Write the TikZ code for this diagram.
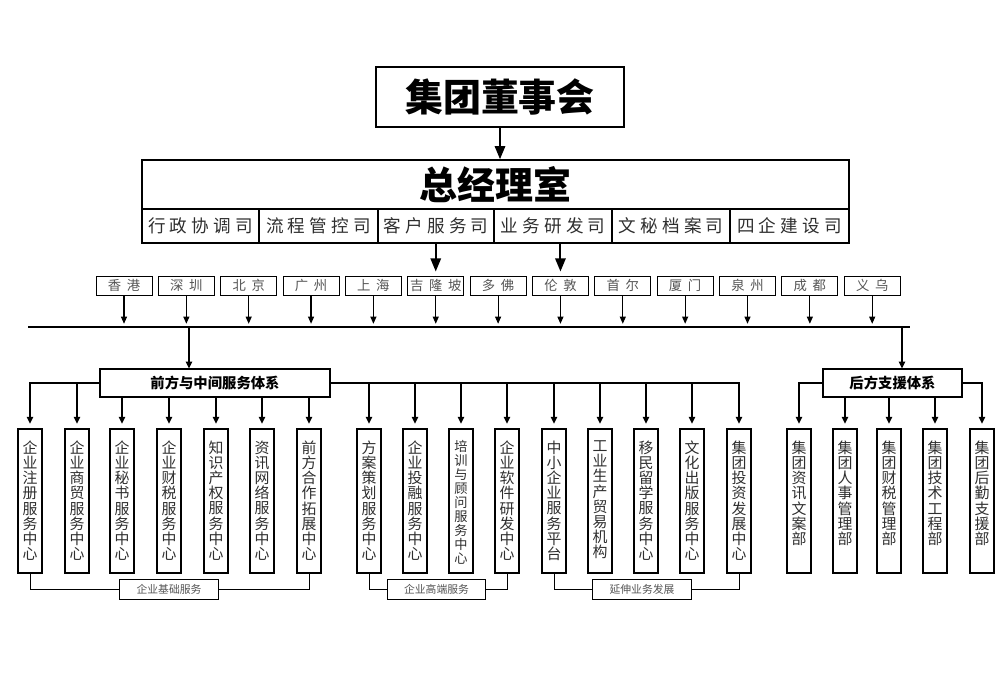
\documentclass[tikz,border=0pt]{standalone}
\usepackage{fontspec}
\newfontfamily\cjk{Noto Sans CJK SC}
\usetikzlibrary{arrows.meta, positioning}

\definecolor{tinta}{HTML}{2E2E2E}
\definecolor{gristexto}{HTML}{555555}

% Separador entre caracteres (texto espaciado o vertical)
\def\jiange#1#2{\gdef\jgsep{#1}\expandafter\jgaux#2\relax}
\def\jgaux#1#2{#1\ifx#2\relax\else\jgsep\expandafter\jgaux\fi#2}
\newcommand{\shu}[1]{\jiange{\\}{#1}}

\begin{document}
\begin{tikzpicture}[
    x=0.25mm, y=-0.25mm,
    font=\cjk,
    % Estilo para las cajas superiores
    junta/.style={draw, line width=1.4pt, minimum width=62mm, minimum height=15mm, inner sep=0pt, font=\cjk\bfseries\fontsize{27}{30}\selectfont},
    gerencia/.style={draw, line width=1.1pt, minimum width=176.75mm, minimum height=12.25mm, inner sep=0pt, font=\cjk\bfseries\fontsize{27}{30}\selectfont},
    depto/.style={draw, line width=0.9pt, minimum height=8.5mm, inner sep=0pt, text=tinta, font=\cjk\fontsize{12.5}{14}\selectfont},
    % Estilo para las ciudades
    ciudad/.style={draw, line width=0.7pt, minimum width=14mm, minimum height=4.75mm, inner sep=0pt, text=gristexto, font=\cjk\fontsize{9.5}{11}\selectfont},
    % Estilo para los sistemas y columnas
    sistema/.style={draw, line width=0.9pt, minimum height=7mm, inner sep=0pt, font=\cjk\bfseries\fontsize{10.2}{12}\selectfont},
    columna/.style={draw, line width=0.8pt, minimum width=6mm, minimum height=36mm, inner sep=0pt},
    textocol/.style={anchor=north, inner sep=0pt, yshift=-3mm, align=center, text=tinta,
        font={\cjk\ifnum\i=10 \fontsize{9.4}{9.9}\else\fontsize{10.6}{10.8}\fi\selectfont}},
    grupo/.style={draw, line width=0.7pt, minimum width=24.6mm, minimum height=5mm, inner sep=0pt, text=gristexto, font=\cjk\fontsize{7.7}{9}\selectfont},
    % Estilo para las flechas
    flechagrande/.style={line width=1.4pt, -{Triangle[length=3.3mm, width=2.6mm]}},
    flechachica/.style={line width=0.8pt, -{Triangle[length=1.8mm, width=1.5mm]}, shorten >=0.8mm},
    flechacol/.style={line width=0.8pt, -{Triangle[length=1.7mm, width=1.6mm]}, shorten >=1.2mm},
    linea/.style={line width=0.7pt}
]
    \useasboundingbox (0,0) rectangle (1006,688);

    % ==========================================
    % PARTE SUPERIOR: JUNTA Y GERENCIA
    % ==========================================
    \node[junta] (junta) at (500,97) {集团董事会};
    \node[gerencia] (gm) at (495.5,184.5) {总经理室};

    % Departamentos bajo la gerencia
    \foreach \xa/\xb/\texto [count=\i] in {142/259/行政协调司, 259/378/流程管控司, 378/494/客户服务司,
                                           494/612/业务研发司, 612/730/文秘档案司, 730/849/四企建设司}
        \node[depto, minimum width={(\xb-\xa)*0.25mm}] (d\i) at ({(\xa+\xb)/2},226) {\jiange{\hspace{3pt}}{\texto}};

    \draw[flechagrande] (junta.south) -- (junta.south |- gm.north);

    % ==========================================
    % CIUDADES Y BARRA COMUN
    % ==========================================
    \foreach \nombre [count=\i from 0] in {香港,深圳,北京,广州,上海,吉隆坡,多佛,伦敦,首尔,厦门,泉州,成都,义乌}
        \node[ciudad] (ciu\i) at ({124+62.35*\i},285.5) {\jiange{\hspace{4pt}}{\nombre}};

    \draw[flechagrande, shorten >=1mm] (d3.south -| ciu5.north) -- (ciu5.north);
    \draw[flechagrande, shorten >=1mm] (d4.south -| ciu7.north) -- (ciu7.north);

    \coordinate (barraI) at (28,327);
    \coordinate (barraD) at (910,327);
    \draw[line width=1.3pt] (barraI) -- (barraD);

    \foreach \i in {0,...,12}
        \draw[flechachica] (ciu\i.south) -- (ciu\i.south |- barraI);

    % ==========================================
    % PARTE IZQUIERDA: SISTEMA DE SERVICIO
    % ==========================================
    \node[sistema, minimum width=57.5mm] (frente) at (215,383) {前方与中间服务体系};
    \coordinate (bajada1) at (189,327);
    \draw[flechacol, shorten >=0pt] (bajada1) -- (bajada1 |- frente.north);

    \foreach \x/\texto [count=\i] in {30/企业注册服务中心, 77/企业商贸服务中心, 122/企业秘书服务中心,
                                      169/企业财税服务中心, 216/知识产权服务中心, 262/资讯网络服务中心,
                                      309/前方合作拓展中心, 369/方案策划服务中心, 415/企业投融服务中心,
                                      461/培训与顾问服务中心, 507/企业软件研发中心, 554/中小企业服务平台,
                                      600/工业生产贸易机构, 646/移民留学服务中心, 692/文化出版服务中心,
                                      739/集团投资发展中心} {
        \node[columna] (c\i) at (\x,501) {};
        \node[textocol] (tc\i) at (c\i.north) {\shu{\texto}};
    }

    \draw[flechacol] (frente.west) -| (c1.north);
    \draw[flechacol] (frente.west -| c2.north) -- (c2.north);
    \foreach \i in {3,...,7}
        \draw[flechacol] (frente.south -| c\i.north) -- (c\i.north);
    \draw[flechacol] (frente.east) -| (c16.north);
    \foreach \i in {8,...,15}
        \draw[flechacol] (frente.east -| c\i.north) -- (c\i.north);

    % Grupos inferiores
    \node[grupo] (g1) at (169,589) {企业基础服务};
    \node[grupo] (g2) at (436.5,589) {企业高端服务};
    \node[grupo] (g3) at (642,589) {延伸业务发展};
    \draw[linea] (c1.south) |- (g1.west);
    \draw[linea] (c7.south) |- (g1.east);
    \draw[linea] (c8.south) |- (g2.west);
    \draw[linea] (c11.south) |- (g2.east);
    \draw[linea] (c12.south) |- (g3.west);
    \draw[linea] (c16.south) |- (g3.east);

    % ==========================================
    % PARTE DERECHA: SISTEMA DE APOYO
    % ==========================================
    \node[sistema, minimum width=34.75mm] (apoyo) at (892.5,383) {后方支援体系};
    \coordinate (bajada2) at (902,327);
    \draw[flechacol, shorten >=0pt] (bajada2) -- (bajada2 |- apoyo.north);

    \foreach \x/\texto [count=\i] in {799/集团资讯文案部, 845/集团人事管理部, 889/集团财税管理部,
                                      935/集团技术工程部, 982/集团后勤支援部} {
        \node[columna] (r\i) at (\x,501) {};
        \node[textocol] (tr\i) at (r\i.north) {\shu{\texto}};
    }

    \draw[flechacol] (apoyo.west) -| (r1.north);
    \draw[flechacol] (apoyo.east) -| (r5.north);
    \foreach \i in {2,3,4}
        \draw[flechacol] (apoyo.south -| r\i.north) -- (r\i.north);

\end{tikzpicture}
\end{document}
